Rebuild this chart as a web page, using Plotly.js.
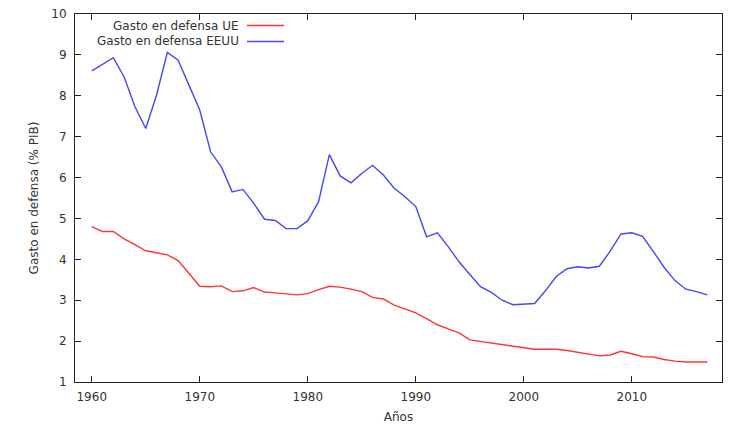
<!DOCTYPE html>
<html>
<head>
<meta charset="utf-8">
<script src="https://cdn.plot.ly/plotly-3.0.1.min.js"></script>
<style>
html, body { margin: 0; padding: 0; background: #fff; }
#chart { width: 731px; height: 430px; }
</style>
</head>
<body>
<div id="chart"></div>
<script>
var years = [];
for (var y = 1960; y <= 2017; y++) years.push(y);

var gastoUE = [
  4.80, 4.68, 4.68, 4.50, 4.36, 4.21, 4.16, 4.11, 3.97, 3.66,
  3.34, 3.33, 3.35, 3.21, 3.23, 3.31, 3.20, 3.18, 3.16, 3.13,
  3.16, 3.26, 3.34, 3.32, 3.27, 3.21, 3.07, 3.03, 2.88, 2.78,
  2.69, 2.55, 2.40, 2.30, 2.20, 2.03, 1.99, 1.95, 1.91, 1.87,
  1.83, 1.80, 1.80, 1.80, 1.77, 1.73, 1.68, 1.64, 1.66, 1.75,
  1.69, 1.62, 1.61, 1.55, 1.51, 1.49, 1.49, 1.49
];

var gastoEEUU = [
  8.61, 8.77, 8.93, 8.46, 7.73, 7.20, 8.02, 9.06, 8.87, 8.26,
  7.65, 6.63, 6.26, 5.65, 5.71, 5.37, 4.98, 4.95, 4.75, 4.75,
  4.94, 5.41, 6.56, 6.04, 5.87, 6.10, 6.30, 6.06, 5.74, 5.53,
  5.29, 4.55, 4.65, 4.31, 3.94, 3.63, 3.33, 3.19, 3.00, 2.89,
  2.91, 2.92, 3.23, 3.58, 3.77, 3.82, 3.79, 3.83, 4.20, 4.62,
  4.65, 4.56, 4.19, 3.80, 3.48, 3.27, 3.21, 3.13
];

var seriesNames = ["Gasto en defensa UE", "Gasto en defensa EEUU"];
var seriesColors = ["#ff3434", "#4646ff"];
var xTicks = [1960, 1970, 1980, 1990, 2000, 2010];
var yTicks = [1, 2, 3, 4, 5, 6, 7, 8, 9, 10];

var font = "DejaVu Sans, Verdana, sans-serif";
var textColor = "#333333";
var fs = 12;

var traces = [
  { x: years, y: gastoUE, type: "scatter", mode: "lines", name: seriesNames[0],
    line: { color: seriesColors[0], width: 1.4 }, hoverinfo: "x+y" },
  { x: years, y: gastoEEUU, type: "scatter", mode: "lines", name: seriesNames[1],
    line: { color: seriesColors[1], width: 1.4 }, hoverinfo: "x+y" }
];

// Legend drawn gnuplot-style: text right-aligned, sample line to its right
var annotations = [];
var shapes = [];
var legTextRight = 241, legLineX0 = 247, legLineX1 = 284, legY0 = 25.5, legDy = 16;
var plotL = 75, plotT = 14, plotW = 731 - 75 - 9, plotH = 430 - 14 - 48;
for (var i = 0; i < seriesNames.length; i++) {
  var py = legY0 + i * legDy;
  var yp = 1 - (py - plotT) / plotH;
  annotations.push({
    xref: "paper", yref: "paper",
    x: (legTextRight - plotL) / plotW, y: yp,
    xanchor: "right", yanchor: "middle",
    text: seriesNames[i], showarrow: false,
    font: { family: font, size: fs, color: textColor }
  });
  shapes.push({
    type: "line", xref: "paper", yref: "paper",
    x0: (legLineX0 - plotL) / plotW, x1: (legLineX1 - plotL) / plotW,
    y0: yp, y1: yp,
    line: { color: seriesColors[i], width: 1.4 }
  });
}

var layout = {
  width: 731, height: 430,
  margin: { l: 75, r: 9, t: 14, b: 48 },
  paper_bgcolor: "#ffffff", plot_bgcolor: "#ffffff",
  showlegend: false,
  font: { family: font, size: fs, color: textColor },
  xaxis: {
    range: [1958.45, 2018.35],
    tickvals: xTicks, ticktext: xTicks.map(String),
    ticks: "inside", ticklen: 6, tickcolor: "#222", tickwidth: 1,
    showline: true, linecolor: "#222", linewidth: 1, mirror: "allticks",
    showgrid: false, zeroline: false,
    ticklabelstandoff: 4,
    tickfont: { family: font, size: fs, color: textColor },
    title: { text: "Años", font: { family: font, size: fs, color: textColor }, standoff: 9 }
  },
  yaxis: {
    range: [1, 10],
    tickvals: yTicks, ticktext: yTicks.map(String),
    ticks: "inside", ticklen: 6, tickcolor: "#222", tickwidth: 1,
    showline: true, linecolor: "#222", linewidth: 1, mirror: "allticks",
    showgrid: false, zeroline: false,
    ticklabelstandoff: 5,
    tickfont: { family: font, size: fs, color: textColor },
    title: { text: "Gasto en defensa (% PIB)", font: { family: font, size: fs, color: textColor }, standoff: 10 }
  },
  annotations: annotations,
  shapes: shapes
};

Plotly.newPlot("chart", traces, layout, { displayModeBar: false, staticPlot: true });
</script>
</body>
</html>
